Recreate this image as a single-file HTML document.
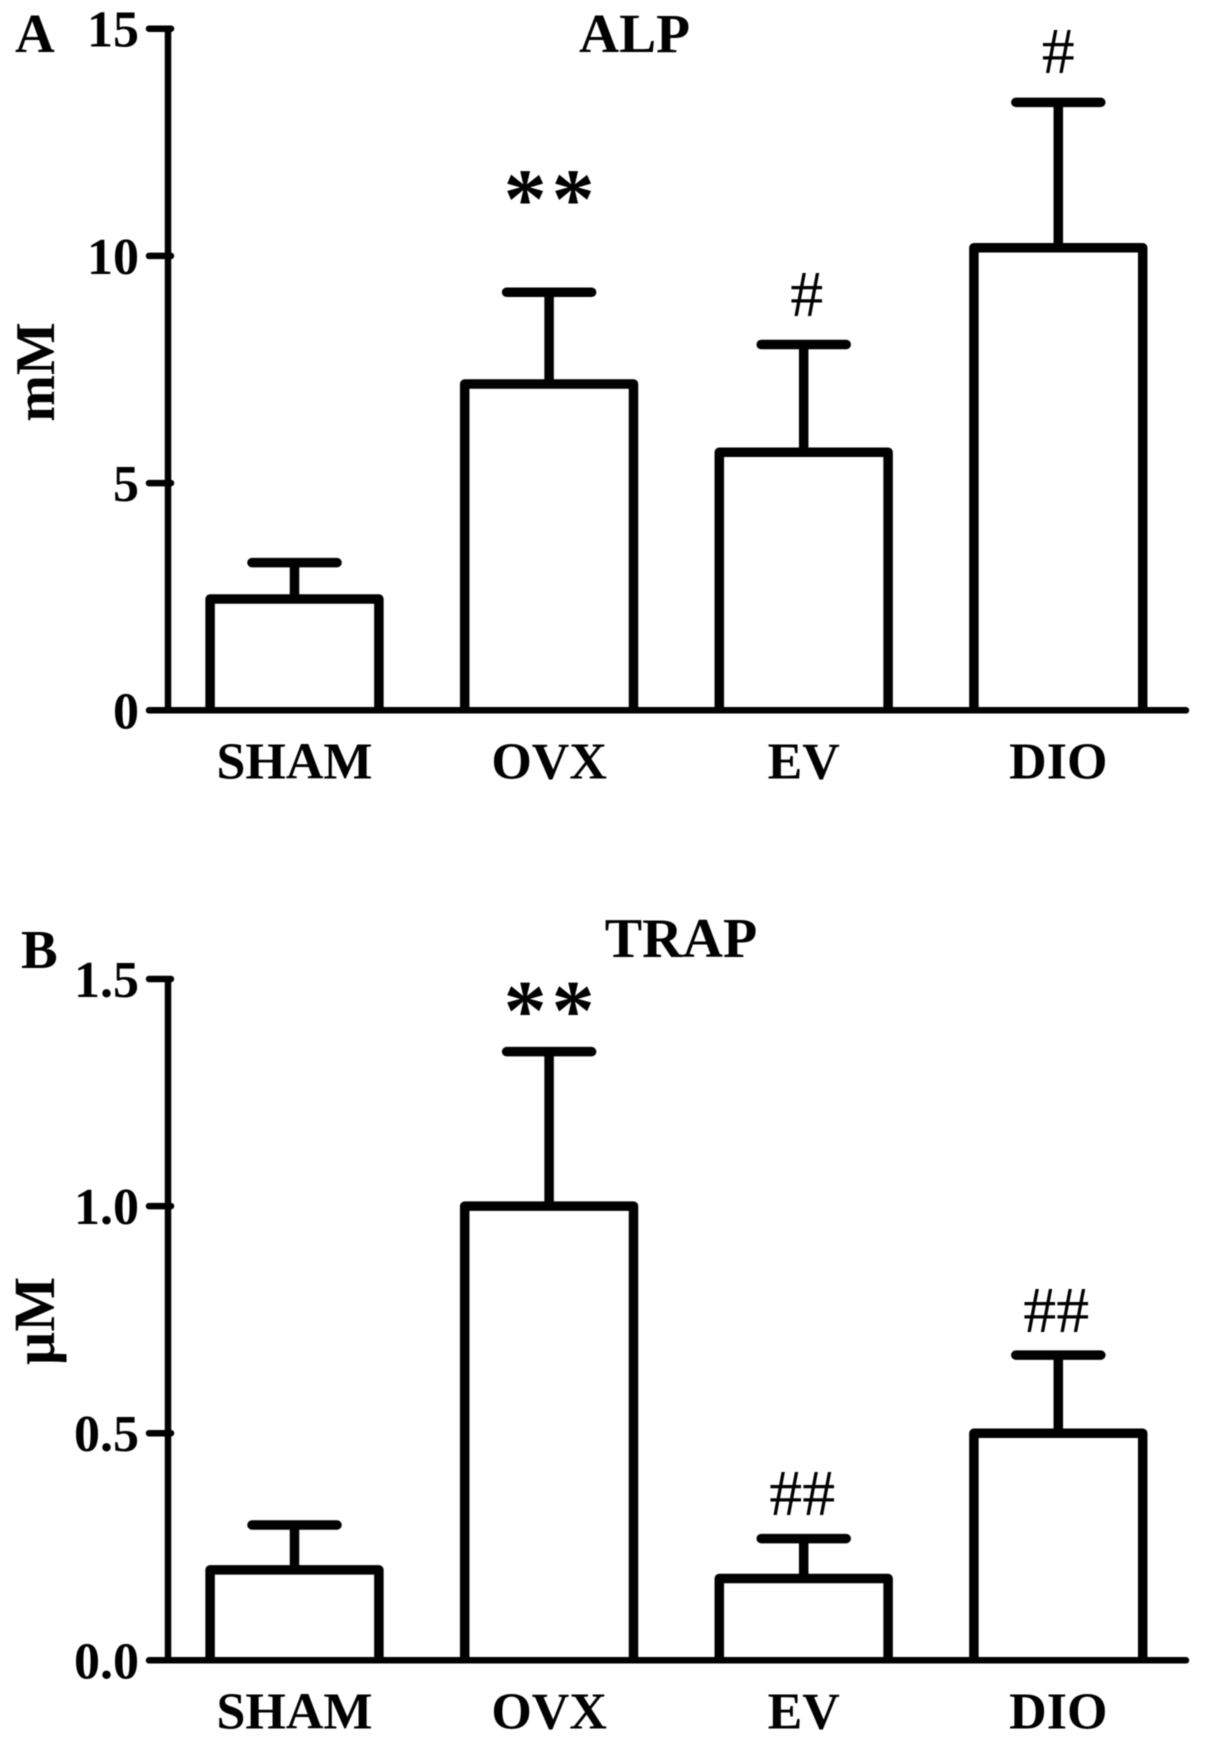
<!DOCTYPE html>
<html lang="en">
<head>
<meta charset="utf-8">
<title>ALP and TRAP bar charts</title>
<style>
  html, body { margin: 0; padding: 0; background: #ffffff; }
  #figure { display: block; width: 1205px; height: 1743px; filter: blur(0.5px); }
  text { font-family: "Liberation Serif", "Times New Roman", serif; fill: #000; }
</style>
</head>
<body>
<svg id="figure" xmlns="http://www.w3.org/2000/svg" width="1205" height="1743" viewBox="0 0 1205 1743">
  <rect x="0" y="0" width="1205" height="1743" fill="#ffffff"/>
</svg>
<script>
// ---- Data ----
const categories = ['SHAM', 'OVX', 'EV', 'DIO'];

const alpMeans = [2.45, 7.18, 5.68, 10.18];
const alpUpper = [3.25, 9.2, 8.05, 13.38];
const alpTicks = [0, 5, 10, 15];
const alpTickLabels = ['0', '5', '10', '15'];
const alpMarks = ['', '**', '#', '#'];
const alpMarkLevels = [0, 11.12, 8.68, 14.02];

const trapMeans = [0.199, 1.0, 0.18, 0.5];
const trapUpper = [0.298, 1.34, 0.268, 0.672];
const trapTicks = [0, 0.5, 1.0, 1.5];
const trapTickLabels = ['0.0', '0.5', '1.0', '1.5'];
const trapMarks = ['', '**', '##', '##'];
const trapMarkLevels = [0, 1.417, 0.32, 0.723];

// ---- Rendering ----
const NS = 'http://www.w3.org/2000/svg';
const svg = document.getElementById('figure');

function make(parent, tag, attrs, content) {
  const el = document.createElementNS(NS, tag);
  for (const k in attrs) el.setAttribute(k, attrs[k]);
  if (content !== undefined) el.textContent = content;
  parent.appendChild(el);
  return el;
}

function drawPanel(cfg) {
  const g = make(svg, 'g', {});
  
  

  // axis functions
  const yMax = cfg.ticks[cfg.ticks.length - 1];
  const yScale = v => cfg.baseY - (v / yMax) * (cfg.baseY - cfg.topY);
  const xCenter = i => 294.5 + i * 254.6;
  const halfBar = 84.4;
  const halfCap = 42.5;

  // y axis line
  const yAxis = make(g, 'line', { x1: 168, x2: 168, y1: yScale(yMax), y2: cfg.baseY, stroke: '#000', 'stroke-width': 6.5 });
  
  

  // y ticks and labels
  cfg.ticks.forEach((t, i) => {
    const y = yScale(t);
    const x2 = t === 0 ? 1186 : 171;
    const tick = make(g, 'line', { x1: 149, x2: x2, y1: y, y2: y, stroke: '#000', 'stroke-width': 6.5, 'stroke-linecap': 'round' });
    
    
    const label = make(g, 'text', { x: 139, y: y + 18, 'text-anchor': 'end', 'font-size': 52, 'font-weight': 'bold' }, cfg.tickLabels[i]);
    
    
  });

  // bars, error bars, category labels, significance marks
  categories.forEach((cat, i) => {
    const id = cfg.key + '-' + cat.toLowerCase();
    const cx = xCenter(i);
    const top = yScale(cfg.means[i]);
    const upper = yScale(cfg.upper[i]);

    const stem = make(g, 'line', { x1: cx, x2: cx, y1: upper, y2: top, stroke: '#000', 'stroke-width': 9.5 });
    
    

    const cap = make(g, 'line', { x1: cx - halfCap, x2: cx + halfCap, y1: upper, y2: upper, stroke: '#000', 'stroke-width': 9.5, 'stroke-linecap': 'round' });
    
    

    const d = 'M' + (cx - halfBar) + ' ' + cfg.baseY + ' V' + top + ' H' + (cx + halfBar) + ' V' + cfg.baseY;
    const bar = make(g, 'path', { d: d, fill: 'none', stroke: '#000', 'stroke-width': 9.5, 'stroke-linejoin': 'round' });
    
    

    const catLabel = make(g, 'text', { x: cx, y: cfg.baseY + 68, 'text-anchor': 'middle', 'font-size': 52, 'font-weight': 'bold' }, cat);
    
    

    const mark = cfg.marks[i];
    if (mark) {
      const isStar = mark[0] === '*';
      const glyphY = yScale(cfg.markLevels[i]) + (isStar ? 23 : 0);
      const markEl = make(g, 'text', {
        x: cx + (isStar ? 2.5 : 0) + cfg.markNudge[i],
        y: glyphY,
        'text-anchor': 'middle',
        'font-size': isStar ? 86 : 66,
        'font-weight': isStar ? 'bold' : 'normal',
        'letter-spacing': isStar ? 5 : 0
      }, mark);
      
      
    }
  });

  // titles
  const title = make(g, 'text', { x: cfg.titleX, y: cfg.titleY, 'text-anchor': 'middle', 'font-size': cfg.titleSize, 'font-weight': 'bold' }, cfg.title);
  
  

  const letter = make(g, 'text', { x: cfg.letterX, y: cfg.letterY, 'font-size': 55, 'font-weight': 'bold' }, cfg.letter);
  
  

  const yTitle = make(g, 'text', {
    transform: 'translate(54 ' + cfg.yTitleY + ') rotate(-90)',
    'text-anchor': 'middle', 'font-size': cfg.yTitleSize, 'font-weight': 'bold'
  }, cfg.yTitle);
  
  
}

drawPanel({
  key: 'alp', title: 'ALP', letter: 'A', yTitle: 'mM',
  means: alpMeans, upper: alpUpper, ticks: alpTicks, tickLabels: alpTickLabels,
  marks: alpMarks, markLevels: alpMarkLevels, markNudge: [0, 0, 3, 0],
  baseY: 710.3, topY: 28.7, titleX: 634.5, titleY: 52, titleSize: 55.5,
  letterX: 15, letterY: 52, yTitleY: 372, yTitleSize: 56
});

drawPanel({
  key: 'trap', title: 'TRAP', letter: 'B', yTitle: '\u00B5M',
  means: trapMeans, upper: trapUpper, ticks: trapTicks, tickLabels: trapTickLabels,
  marks: trapMarks, markLevels: trapMarkLevels, markNudge: [0, 0, -1.5, -2],
  baseY: 1660.3, topY: 979, titleX: 681, titleY: 957, titleSize: 56,
  letterX: 21, letterY: 968, yTitleY: 1321, yTitleSize: 58
});
</script>
</body>
</html>
